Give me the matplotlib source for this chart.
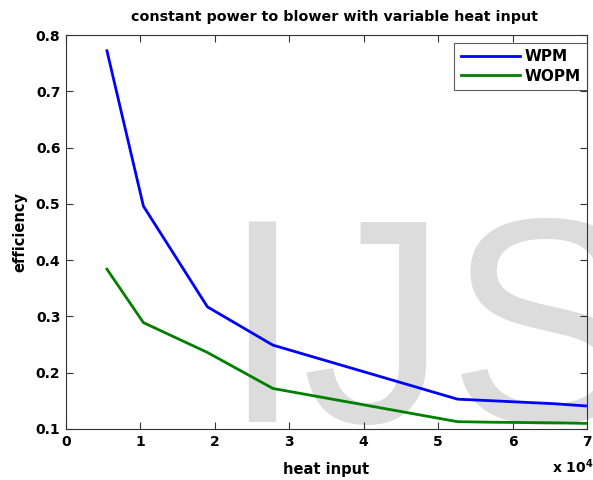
import matplotlib.pyplot as plt
import matplotlib.ticker as mticker

heat_input = [5500, 10400, 19000, 27800, 52600, 57500, 65500, 69800]
wpm = [0.772, 0.496, 0.317, 0.249, 0.153, 0.150, 0.145, 0.141]
wopm = [0.384, 0.289, 0.236, 0.172, 0.113, 0.112, 0.111, 0.110]

plt.rcParams['font.family'] = ['DejaVu Sans']
plt.rcParams['font.weight'] = 'bold'
plt.rcParams['mathtext.default'] = 'bf'

fig = plt.figure(figsize=(5.93, 4.80), dpi=100)
ax = fig.add_axes([0.1113, 0.10625, 0.8786, 0.8208])
ax.patch.set_alpha(0)

# watermark behind the axes
fig.text(0.373, 0.1215, "IJS", fontsize=210, color="#dcdcdc", fontweight='normal',
         family='Liberation Sans', ha='left', va='baseline', zorder=-1)

ax.plot(heat_input, wpm, color="#0000ff", lw=2.0, label="WPM")
ax.plot(heat_input, wopm, color="#007f00", lw=2.0, label="WOPM")

ax.set_xlim(0, 70000)
ax.set_ylim(0.1, 0.8)
ax.xaxis.set_major_locator(mticker.MultipleLocator(10000))
ax.xaxis.set_major_formatter(mticker.FuncFormatter(lambda v, p: "%d" % round(v / 1e4)))
ax.yaxis.set_major_locator(mticker.MultipleLocator(0.1))
ax.yaxis.set_major_formatter(mticker.FormatStrFormatter('%.1f'))
ax.tick_params(direction='in', top=True, right=True, length=5, width=0.8,
               labelsize=10, color="#333333", pad=4)
for lab in ax.get_xticklabels() + ax.get_yticklabels():
    lab.set_fontweight('bold')
for s in ax.spines.values():
    s.set_color("#333333")
    s.set_linewidth(0.8)

ax.set_title("constant power to blower with variable heat input", fontsize=10.3,
             fontweight='bold', pad=10, x=0.515)
ax.set_xlabel("heat input", fontsize=10.5, fontweight='bold', labelpad=10)
ax.set_ylabel("efficiency", fontsize=10.5, fontweight='bold', labelpad=6)
fig.text(0.931, 0.014, r"x 10$^{4}$", fontsize=10, fontweight='bold')

leg = ax.legend(loc='upper right', fontsize=11, frameon=True, fancybox=False,
                edgecolor="#333333", borderaxespad=0, handlelength=3.9,
                handletextpad=0.3, borderpad=0.4, labelspacing=0.3,
                bbox_to_anchor=(1.0, 0.98))
leg.get_frame().set_linewidth(0.8)
for t in leg.get_texts():
    t.set_fontweight('bold')

fig.savefig("out.png", dpi=100)
